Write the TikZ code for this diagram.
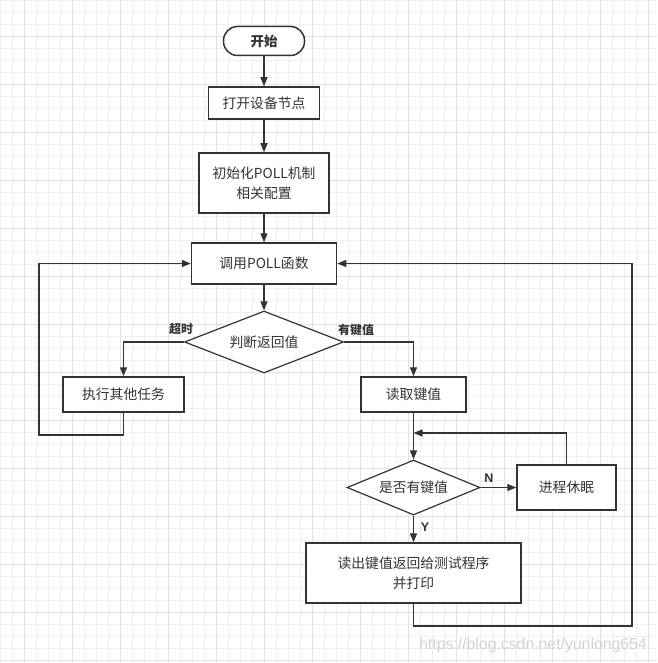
\documentclass[tikz,border=0pt]{standalone}
\usepackage{fontspec}
\setmainfont{Noto Sans CJK SC}
\newfontfamily\wmfont{Liberation Sans}
\usetikzlibrary{shapes.geometric,arrows.meta}
\definecolor{ink}{HTML}{333333}
\definecolor{gridminor}{HTML}{F0F0F0}
\definecolor{gridmajor}{HTML}{E2E2E2}
\tikzset{
  box/.style={draw=ink, line width=1.5pt, rectangle, inner sep=0pt, align=center, text=ink, font=\fontsize{13.8}{20}\selectfont, fill=white},
  term/.style={box, rounded corners=14pt},
  dec/.style={draw=ink, line width=1.2pt, diamond, aspect=2.6, inner sep=0pt, text=ink, font=\fontsize{13.8}{20}\selectfont, fill=white},
  conn/.style={draw=ink, line width=1.4pt, -{Triangle[length=9pt,width=7pt]}},
  lab/.style={text=ink, font=\fontsize{12}{14}\selectfont\bfseries, inner sep=0pt},
}
\begin{document}
\begin{tikzpicture}[x=1pt,y=-1pt]
\useasboundingbox (0,0) rectangle (657,663);
\fill[white] (0,0) rectangle (657,663);
% grid
\foreach \i in {0,12,...,660} {
  \draw[gridminor, line width=0.8pt] (\i,0) -- (\i,663);
  \draw[gridminor, line width=0.8pt] (0,\i) -- (657,\i);
}
\foreach \i in {24,72,...,657} {\draw[gridmajor, line width=0.8pt] (\i,0) -- (\i,663);}
\foreach \i in {36,84,...,663} {\draw[gridmajor, line width=0.8pt] (0,\i) -- (657,\i);}

% nodes
\node[term, minimum width=81pt, minimum height=29pt, font=\fontsize{13.5}{19}\selectfont\bfseries] (start) at (264,41) {开始};
\node[box, minimum width=111pt, minimum height=32pt] (open) at (264,103) {打开设备节点};
\node[box, minimum width=130pt, minimum height=60pt] (init) at (264,183) {初始化POLL机制\\相关配置};
\node[box, minimum width=145pt, minimum height=41pt] (poll) at (264,263.5) {调用POLL函数};
\node[dec, minimum width=159pt, minimum height=62pt] (judge) at (264,342) {判断返回值};
\node[box, minimum width=121pt, minimum height=35pt] (other) at (123.5,394.5) {执行其他任务};
\node[box, minimum width=105pt, minimum height=35pt] (read) at (413.5,394.5) {读取键值};
\node[dec, minimum width=133pt, minimum height=55pt] (has) at (413.5,487.5) {是否有键值};
\node[box, minimum width=99pt, minimum height=45pt] (sleep) at (566.5,487.5) {进程休眠};
\node[box, minimum width=215pt, minimum height=60pt] (out) at (413.5,573) {读出键值返回给测试程序\\并打印};

\coordinate (lb) at (39,435);
\coordinate (merge) at (413.5,433);
\coordinate (rb) at (632,626);

% connectors
\draw[conn] (start) -- (open);
\draw[conn] (open) -- (init);
\draw[conn] (init) -- (poll);
\draw[conn] (poll) -- (judge);
\draw[conn] (judge.west) -| (other.north);
\draw[conn] (judge.east) -| (read.north);
\draw[conn] (other.south) |- (lb) |- (poll.west);
\draw[conn] (read) -- (has);
\draw[conn] (sleep.north) |- (merge);
\draw[conn] (has.east) -- (sleep.west);
\draw[conn] (has) -- (out);
\draw[conn] (out.south) |- (rb) |- (poll.east);

% labels
\node[lab] (lto) at (181,329) {超时};
\node[lab] (lkey) at (356,330) {有键值};
\node[lab, font=\fontsize{12.5}{14}\selectfont\bfseries\wmfont] (ln) at (489,478) {N};
\node[lab, font=\fontsize{12.5}{14}\selectfont\bfseries\wmfont] (ly) at (425,527) {Y};

\node[text=gray!35, font=\fontsize{15.8}{18}\selectfont\wmfont, inner sep=0pt] (wm) at (533,645) {https://blog.csdn.net/yunlong654};
\end{tikzpicture}
\end{document}
